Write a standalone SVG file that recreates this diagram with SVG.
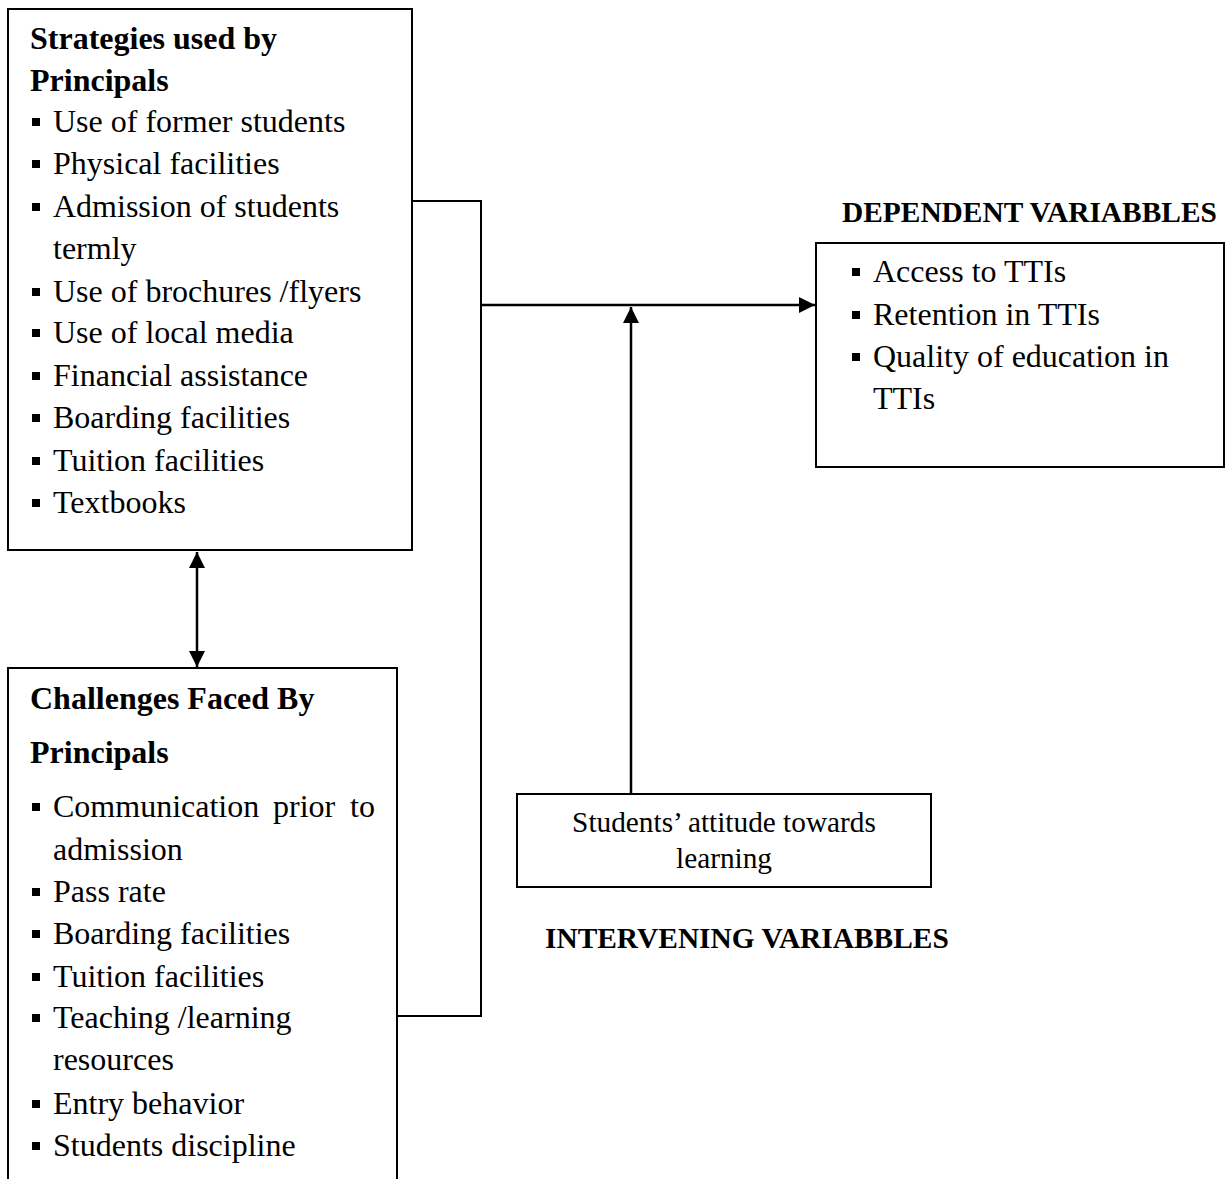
<svg xmlns="http://www.w3.org/2000/svg" width="1225" height="1179" viewBox="0 0 1225 1179">
<style>
.box{fill:#fff;stroke:#000;stroke-width:2}
.t{font-family:"Liberation Serif","Times New Roman",serif;font-size:32px;fill:#000}
.h{font-family:"Liberation Serif","Times New Roman",serif;font-size:32px;font-weight:bold;fill:#000}
.hs{font-family:"Liberation Serif","Times New Roman",serif;font-size:29.4px;font-weight:bold;fill:#000}
.s{font-family:"Liberation Serif","Times New Roman",serif;font-size:29.3px;fill:#000}
.b{fill:#000}
.ln{fill:none;stroke:#000;stroke-width:2}
.ar{fill:none;stroke:#000;stroke-width:2.5}
</style>
<defs>
<marker id="ah" viewBox="0 0 10 10" refX="10" refY="5" markerWidth="6.5" markerHeight="6.5" markerUnits="strokeWidth" orient="auto-start-reverse">
<path d="M0,0 L10,5 L0,10 z" fill="#000"/>
</marker>
</defs>
<g id="strategies">
<rect class="box" x="8" y="9" width="404" height="541"/>
<text class="h" x="30" y="49">Strategies used by</text>
<text class="h" x="30" y="91">Principals</text>
<rect class="b" x="32" y="118" width="8" height="8"/><text class="t" x="53" y="132">Use of former students</text>
<rect class="b" x="32" y="160" width="8" height="8"/><text class="t" x="53" y="174">Physical facilities</text>
<rect class="b" x="32" y="203" width="8" height="8"/><text class="t" x="53" y="217">Admission of students</text>
<text class="t" x="53" y="259">termly</text>
<rect class="b" x="32" y="288" width="8" height="8"/><text class="t" x="53" y="302">Use of brochures /flyers</text>
<rect class="b" x="32" y="329" width="8" height="8"/><text class="t" x="53" y="343">Use of local media</text>
<rect class="b" x="32" y="372" width="8" height="8"/><text class="t" x="53" y="386">Financial assistance</text>
<rect class="b" x="32" y="414" width="8" height="8"/><text class="t" x="53" y="428">Boarding facilities</text>
<rect class="b" x="32" y="457" width="8" height="8"/><text class="t" x="53" y="471">Tuition facilities</text>
<rect class="b" x="32" y="499" width="8" height="8"/><text class="t" x="53" y="513">Textbooks</text>
</g>
<g id="challenges">
<path class="ln" d="M8,1179 L8,668 L397,668 L397,1179"/>
<text class="h" x="30" y="709">Challenges Faced By</text>
<text class="h" x="30" y="763">Principals</text>
<rect class="b" x="32" y="803" width="8" height="8"/><text class="t" y="817"><tspan x="53">Communication</tspan><tspan x="273">prior</tspan><tspan x="350">to</tspan></text>
<text class="t" x="53" y="860">admission</text>
<rect class="b" x="32" y="888" width="8" height="8"/><text class="t" x="53" y="902">Pass rate</text>
<rect class="b" x="32" y="930" width="8" height="8"/><text class="t" x="53" y="944">Boarding facilities</text>
<rect class="b" x="32" y="973" width="8" height="8"/><text class="t" x="53" y="987">Tuition facilities</text>
<rect class="b" x="32" y="1014" width="8" height="8"/><text class="t" x="53" y="1028">Teaching /learning</text>
<text class="t" x="53" y="1070">resources</text>
<rect class="b" x="32" y="1100" width="8" height="8"/><text class="t" x="53" y="1114">Entry behavior</text>
<rect class="b" x="32" y="1142" width="8" height="8"/><text class="t" x="53" y="1156">Students discipline</text>
</g>
<g id="dependent">
<text class="hs" x="842" y="222">DEPENDENT VARIABBLES</text>
<rect class="box" x="816" y="243" width="408" height="224"/>
<rect class="b" x="852" y="268" width="8" height="8"/><text class="t" x="873" y="282">Access to TTIs</text>
<rect class="b" x="852" y="311" width="8" height="8"/><text class="t" x="873" y="325">Retention in TTIs</text>
<rect class="b" x="852" y="353" width="8" height="8"/><text class="t" x="873" y="367">Quality of education in</text>
<text class="t" x="873" y="409">TTIs</text>
</g>
<g id="intervening">
<rect class="box" x="517" y="794" width="414" height="93"/>
<text class="s" x="724" y="832" text-anchor="middle">Students’ attitude towards</text>
<text class="s" x="724" y="868" text-anchor="middle">learning</text>
<text class="hs" x="545" y="948">INTERVENING VARIABBLES</text>
</g>
<g id="connectors">
<path class="ln" d="M412,201 L481,201 L481,1016 L397,1016"/>
<line class="ar" x1="481" y1="305" x2="815" y2="305" marker-end="url(#ah)"/>
<line class="ar" x1="631" y1="794" x2="631" y2="307" marker-end="url(#ah)"/>
<line class="ar" x1="197" y1="552" x2="197" y2="667" marker-start="url(#ah)" marker-end="url(#ah)"/>
</g>
</svg>
